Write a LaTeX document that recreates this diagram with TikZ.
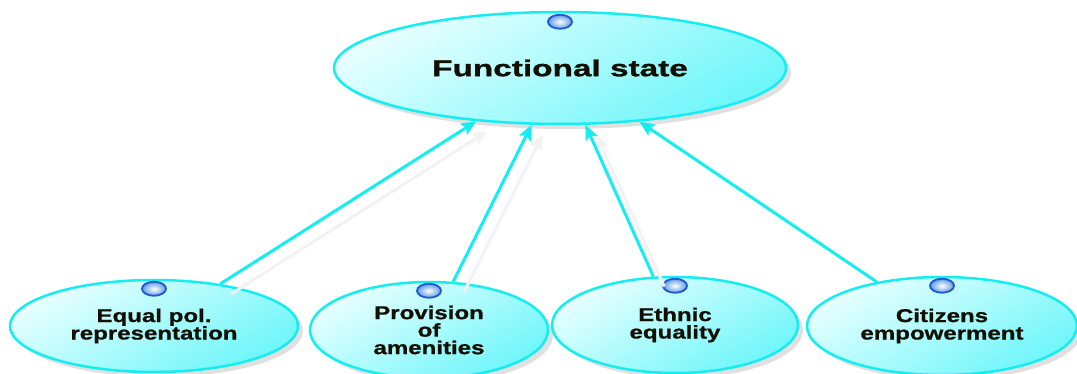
\documentclass[tikz,border=0pt]{standalone}
\usepackage{fontspec}
\usetikzlibrary{shapes.geometric,arrows.meta,shadows}
\newfontfamily\topfont[FakeStretch=1.45,FakeBold=1.2]{Liberation Sans}
\newfontfamily\subfont[FakeStretch=1.3,FakeBold=1.0]{Liberation Sans}
\definecolor{cyanline}{RGB}{20,238,240}
\definecolor{filllight}{RGB}{232,255,255}
\definecolor{filldark}{RGB}{110,246,250}
\definecolor{dotline}{RGB}{30,90,205}
\definecolor{dotfill}{RGB}{95,155,230}
\definecolor{ghost}{RGB}{242,242,242}
\definecolor{inkcol}{RGB}{20,15,5}
\tikzset{
  bubble/.style={ellipse, draw=cyanline, line width=2.5pt, inner sep=0pt,
    top color=filllight, bottom color=filldark, shading angle=30,
    drop shadow={shadow xshift=5pt, shadow yshift=-5pt, opacity=0.12, fill=black},
    align=center, text=inkcol},
  topbubble/.style={bubble, font={\topfont\bfseries\fontsize{23}{26}\selectfont}},
  subbubble/.style={bubble, font={\subfont\bfseries\fontsize{18.5}{17.5}\selectfont}},
  dot/.style={ellipse, draw=dotline, line width=1.8pt, inner sep=0pt,
    minimum width=24pt, minimum height=14pt, inner color=white, outer color=dotfill},
  link/.style={draw=cyanline, line width=3pt,
    -{Stealth[length=15pt,width=13pt,inset=3pt]}},
  ghostlink/.style={draw=ghost, line width=3pt,
    -{Stealth[length=15pt,width=13pt,inset=3pt]}}
}
\begin{document}
\begin{tikzpicture}[x=1pt,y=-1pt]
\useasboundingbox (0,0) rectangle (1077,374);
\node[topbubble, minimum width=452pt, minimum height=112pt] (top) at (560,68) {Functional state};
\node[subbubble, minimum width=288pt, minimum height=92pt] (b1) at (154,326) {Equal pol.\\representation};
\node[subbubble, minimum width=238pt, minimum height=96pt] (b2) at (429,330) {Provision\\of\\amenities};
\node[subbubble, minimum width=246pt, minimum height=96pt] (b3) at (675,325) {Ethnic\\equality};
\node[subbubble, minimum width=270pt, minimum height=98pt] (b4) at (942,326) {Citizens\\empowerment};
\node[dot] (d0) at ([yshift=-11pt]top.north) {};
\node[dot] (d1) at ([yshift=-10pt]b1.north) {};
\node[dot] (d2) at ([yshift=-10pt]b2.north) {};
\node[dot] (d3) at ([yshift=-10pt]b3.north) {};
\node[dot] (d4) at ([yshift=-10pt]b4.north) {};
\begin{scope}[transform canvas={shift={(11pt,-10pt)}}]
\draw[ghostlink] (b1) -- (top);
\draw[ghostlink] (b2) -- (top);
\draw[ghostlink] (b3) -- (top);
\end{scope}
\draw[link] (b1) -- (top);
\draw[link] (b2) -- (top);
\draw[link] (b3) -- (top);
\draw[link] (b4) -- (top);
\end{tikzpicture}
\end{document}
